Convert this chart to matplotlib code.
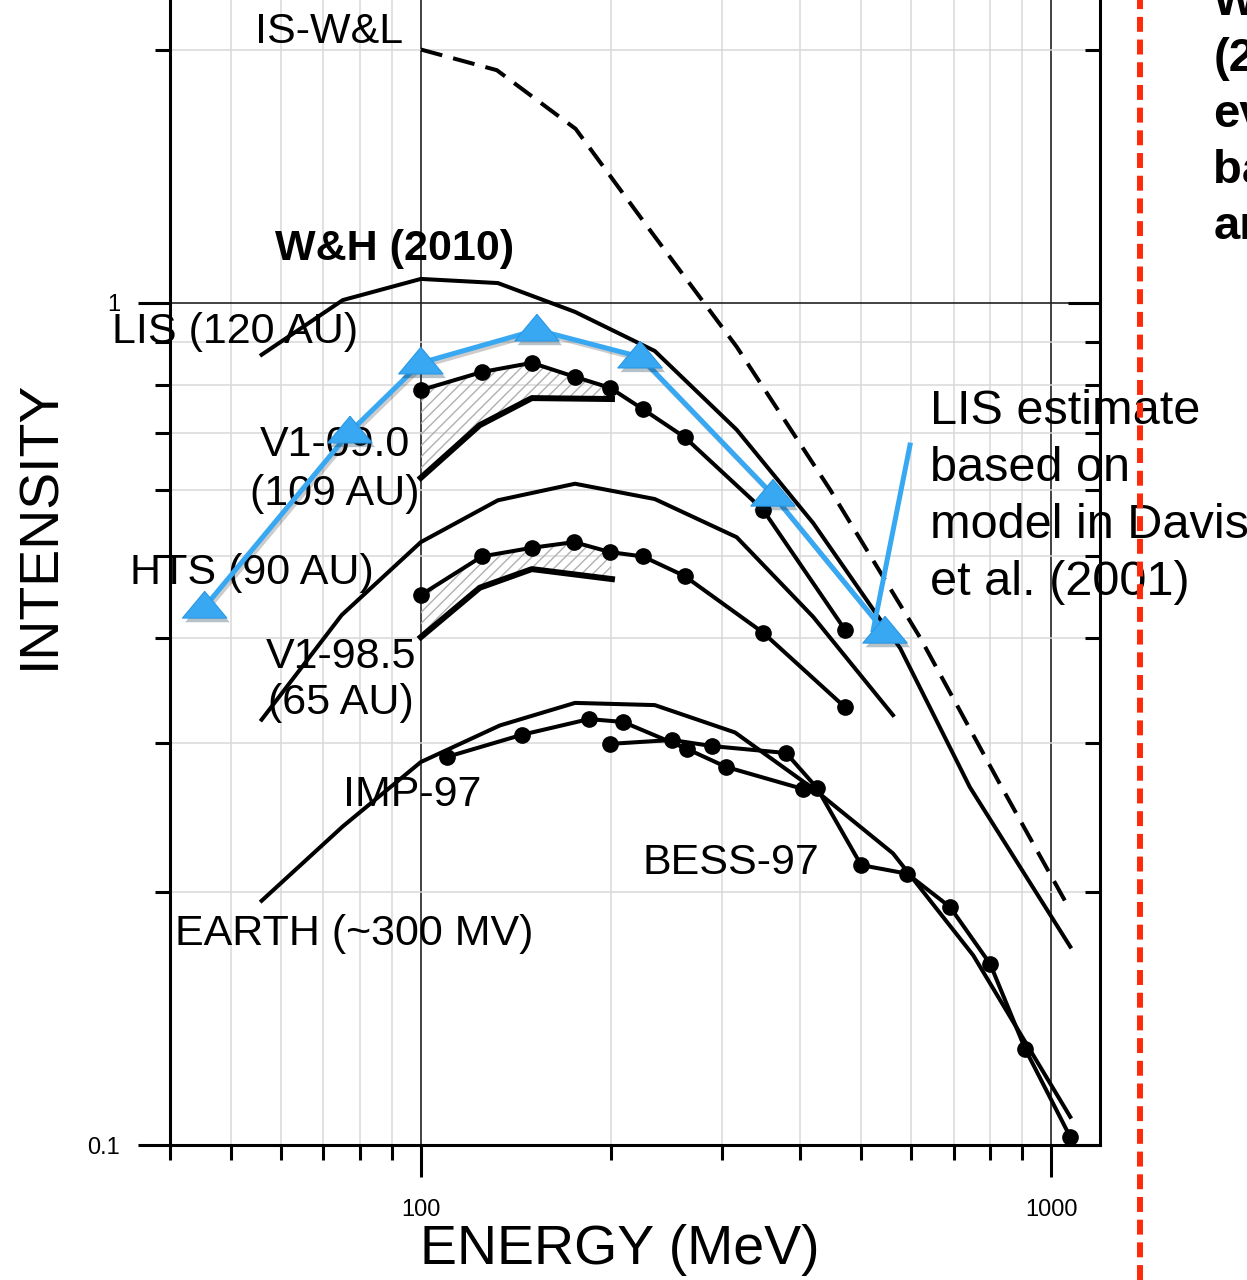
import numpy as np
import matplotlib
matplotlib.use("Agg")
import matplotlib.pyplot as plt
import matplotlib.patheffects as pe
from matplotlib.lines import Line2D
from matplotlib.ticker import LogLocator, NullFormatter

plt.rcParams['font.family'] = ['Liberation Sans', 'DejaVu Sans']
plt.rcParams['hatch.linewidth'] = 1.0

# energy (MeV) / intensity values
is_wl_e = [100, 132, 176, 231, 317, 446, 620, 830, 1072]
is_wl_i = [2.0, 1.89, 1.61, 1.22, 0.887, 0.60, 0.40, 0.268, 0.19]

lis_e = [55.9, 75.2, 100, 132.5, 175.6, 235, 317, 419, 576, 743, 1072]
lis_i = [0.868, 1.008, 1.068, 1.056, 0.976, 0.877, 0.707, 0.548, 0.389, 0.266, 0.172]

v109_e = [100, 125, 150, 175.6, 199.6, 225, 262, 349, 471]
v109_i = [0.788, 0.828, 0.849, 0.817, 0.793, 0.748, 0.693, 0.568, 0.409]
v109_lo_e = [100, 124, 150, 201]
v109_lo_i = [0.620, 0.716, 0.771, 0.769]

hts_e = [55.9, 74.9, 100, 132.5, 175.6, 235, 317, 419, 561]
hts_i = [0.320, 0.426, 0.520, 0.583, 0.610, 0.585, 0.527, 0.424, 0.324]

v985_e = [100, 125, 150, 175, 199.6, 225, 262, 349, 471]
v985_i = [0.450, 0.500, 0.512, 0.520, 0.506, 0.500, 0.474, 0.406, 0.331]
v985_lo_e = [100, 124, 150, 201]
v985_lo_i = [0.401, 0.459, 0.483, 0.470]

earth_e = [55.9, 75.2, 100, 133.5, 175.6, 235, 315, 422, 561, 752, 1072]
earth_i = [0.195, 0.239, 0.285, 0.315, 0.335, 0.333, 0.309, 0.264, 0.222, 0.168, 0.108]

imp_e = [110, 144.6, 184.8, 209.3, 264.3, 304.9, 404]
imp_i = [0.289, 0.307, 0.3205, 0.318, 0.2954, 0.2812, 0.2647]

bess_e = [199.6, 250.2, 289.7, 379.7, 425, 499.4, 590.8, 691, 800.3, 909.4, 1072]
bess_i = [0.2995, 0.3027, 0.2977, 0.2921, 0.2655, 0.215, 0.21, 0.1917, 0.164, 0.130, 0.1022]

# LIS estimate (Davis et al. 2001 model) and its pointer
est_e = [45.4, 77.2, 100, 152.8, 222.7, 362, 545]
est_i = [0.4355, 0.703, 0.849, 0.929, 0.863, 0.5915, 0.4067]
pointer_e = [597, 522]
pointer_i = [0.678, 0.409]

fig = plt.figure(figsize=(12.47, 12.80), dpi=100)
ax = fig.add_axes([170 / 1247, 1 - 1145 / 1280, 930 / 1247, 1145 / 1280])
ax.set_xscale('log')
ax.set_yscale('log')
ax.set_xlim(40, 1195)
ax.set_ylim(0.1, 2.29)

# grid
ax.set_axisbelow(True)
ax.grid(which='minor', color='#d9d9d9', lw=1.1)
ax.grid(which='major', color='#222222', lw=1.2)

# hatched gaps between the Voyager data and lower bounds
ax.fill(np.r_[v109_e[:5], v109_lo_e[::-1]], np.r_[v109_i[:5], v109_lo_i[::-1]],
        facecolor='none', edgecolor='#b0b0b0', hatch='///', lw=0, zorder=1)
ax.fill(np.r_[v985_e[:5], v985_lo_e[::-1]], np.r_[v985_i[:5], v985_lo_i[::-1]],
        facecolor='none', edgecolor='#b0b0b0', hatch='///', lw=0, zorder=1)

lw = 2.9
ax.plot(is_wl_e, is_wl_i, color='k', lw=lw, dashes=(5.5, 2.8), zorder=3)
ax.plot(lis_e, lis_i, color='k', lw=lw, zorder=3)
ax.plot(hts_e, hts_i, color='k', lw=lw, zorder=3)
ax.plot(earth_e, earth_i, color='k', lw=lw, zorder=3)
ax.plot(v109_lo_e, v109_lo_i, color='k', lw=4.3, zorder=3)
ax.plot(v985_lo_e, v985_lo_i, color='k', lw=4.3, zorder=3)
for e, i in [(v109_e, v109_i), (v985_e, v985_i), (imp_e, imp_i), (bess_e, bess_i)]:
    ax.plot(e, i, color='k', lw=lw, marker='o', ms=11, zorder=4)

blue = '#38a8f3'
ax.plot(est_e, est_i, color=blue, lw=3.6, zorder=6,
        path_effects=[pe.SimpleLineShadow(offset=(1.5, -2), alpha=0.2), pe.Normal()])
ax.plot(pointer_e, pointer_i, color=blue, lw=3.6, zorder=6)
tri = [(0, 0.7), (-1, -0.5), (1, -0.5), (0, 0.7)]
ax.plot(est_e, est_i, ls='none', marker=tri, ms=32, mfc=blue, mec='#2b97e3', mew=0.8,
        zorder=7, path_effects=[pe.SimplePatchShadow(offset=(2, -3), alpha=0.3), pe.Normal()])

# labels on the curves
fs = 31
ax.text(54.5, 2.036, 'IS-W&L', fontsize=fs)
ax.text(58.7, 1.125, 'W&H (2010)', fontsize=fs, fontweight='bold')
ax.text(32.4, 0.896, 'LIS (120 AU)', fontsize=fs)
ax.text(34.5, 0.4637, 'HTS (90 AU)', fontsize=fs)
ax.text(75.2, 0.2527, 'IMP-97', fontsize=fs)
ax.text(225, 0.2099, 'BESS-97', fontsize=fs)
ax.text(40.7, 0.1728, 'EARTH (~300 MV)', fontsize=fs)

def stacked(x, y, lines, step, size, **kw):
    for k, line in enumerate(lines):
        ax.annotate(line, xy=(x, y), xytext=(0, -k * step), textcoords='offset points',
                    fontsize=size, annotation_clip=False, **kw)

stacked(73.0, 0.658, ['V1-09.0', '(109 AU)'], 35.3, fs, ha='center')
stacked(74.7, 0.3685, ['V1-98.5', '(65 AU)'], 33.1, fs, ha='center')
stacked(642.6, 0.7183, ['LIS estimate', 'based on', 'model in Davis', 'et al. (2001)'], 41, 35)
stacked(1807, 2.198, ['W&H', '(2010)', 'evolution', 'based on', 'and'], 40.3, 34,
        fontweight='bold')

# ticks
ax.set_xticks([100, 1000])
ax.set_xticklabels(['100', '1000'])
ax.set_yticks([0.1, 1])
ax.set_yticklabels(['0.1', '1'])
ax.xaxis.set_minor_locator(LogLocator(subs=np.arange(2, 10)))
ax.yaxis.set_minor_locator(LogLocator(subs=np.arange(2, 10)))
ax.xaxis.set_minor_formatter(NullFormatter())
ax.yaxis.set_minor_formatter(NullFormatter())
ax.tick_params(which='both', direction='out', width=2.2, labelsize=17, color='k')
ax.tick_params(which='major', length=23)
ax.tick_params(which='minor', length=11)
ax.tick_params(axis='x', which='major', pad=16)
ax.tick_params(axis='y', which='major', pad=13)
for s in ['left', 'bottom', 'right']:
    ax.spines[s].set_linewidth(2.2)
ax.spines['top'].set_visible(False)

# right side ticks point inward
ax2 = ax.twinx()
ax2.set_yscale('log')
ax2.set_ylim(ax.get_ylim())
ax2.set_yticks([0.1, 1])
ax2.yaxis.set_minor_locator(LogLocator(subs=np.arange(2, 10)))
ax2.yaxis.set_minor_formatter(NullFormatter())
ax2.tick_params(which='both', direction='in', width=2.2, labelright=False)
ax2.tick_params(which='major', length=23)
ax2.tick_params(which='minor', length=11)
for s in ax2.spines.values():
    s.set_visible(False)

fig.text(40 / 1247, 1 - 524 / 1280, 'INTENSITY', rotation=90, fontsize=40,
         ha='center', va='center')
fig.text(620 / 1247, 1 - 1250 / 1280, 'ENERGY (MeV)', fontsize=40,
         ha='center', va='center')

fig.add_artist(Line2D([1140 / 1247] * 2, [0, 1], transform=fig.transFigure,
                      color='#ff2a0a', lw=4.3, dashes=(2.5, 1.3)))

fig.savefig('out.png', dpi=100)
